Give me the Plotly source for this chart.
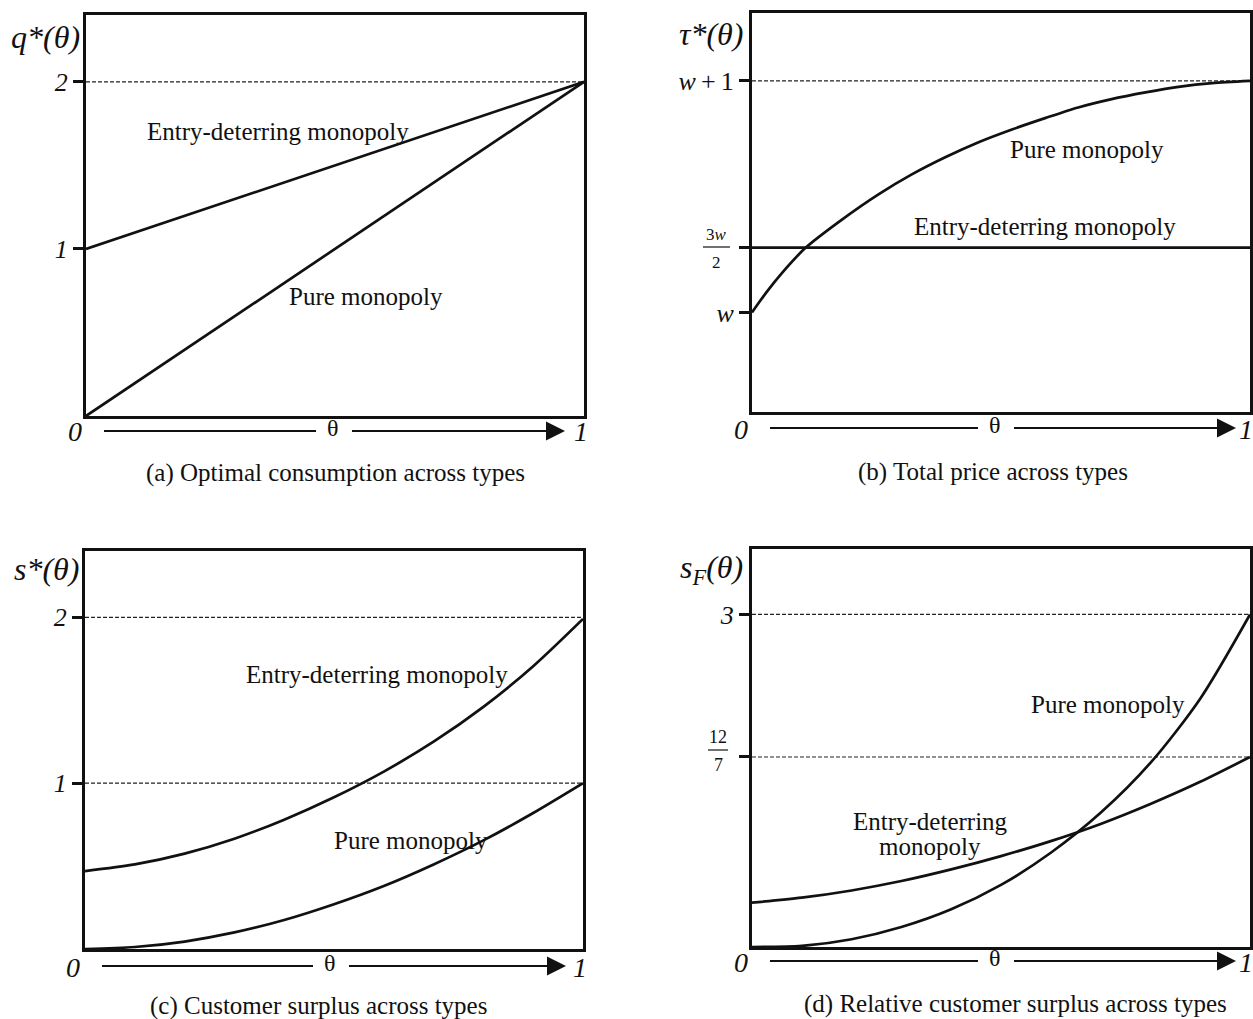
import plotly.graph_objects as go

# ---------------- data ----------------
# (a) optimal consumption
a_theta = [0, 1]
a_entry = [1, 2]
a_pure = [0, 2]
a_ticks = [1, 2]

# (b) total price  (w read as ~0.56 on the picture's scale)
W_VAL = 0.56
b_theta = [0, 0.03, 0.06, 0.108, 0.18, 0.254, 0.32, 0.388, 0.455, 0.522,
           0.59, 0.655, 0.72, 0.79, 0.86, 0.924, 1.0]
b_pure = [0.56, 0.65, 0.73, 0.84, 0.96, 1.07, 1.155, 1.23, 1.295, 1.35,
          1.40, 1.445, 1.48, 1.51, 1.535, 1.55, 1.56]
b_entry_theta = [0, 1]
b_entry = [0.84, 0.84]
b_ticks = [0.56, 0.84, 1.56]

# (c) customer surplus
c_theta = [0, 0.1, 0.2, 0.3, 0.4, 0.5, 0.6, 0.7, 0.8, 0.9, 1.0]
c_entry = [0.47, 0.51, 0.575, 0.665, 0.78, 0.915, 1.07, 1.25, 1.46, 1.705, 1.99]
c_pure = [0.0, 0.012, 0.045, 0.10, 0.175, 0.27, 0.38, 0.51, 0.655, 0.82, 1.0]
c_ticks = [1, 2]

# (d) relative customer surplus
d_theta = [0, 0.1, 0.2, 0.3, 0.4, 0.5, 0.6, 0.7, 0.8, 0.9, 1.0]
d_pure = [0.0, 0.01, 0.07, 0.18, 0.34, 0.56, 0.85, 1.21, 1.66, 2.24, 3.0]
d_entry = [0.40, 0.445, 0.51, 0.595, 0.70, 0.82, 0.955, 1.11, 1.29, 1.49, 1.714]
d_ticks = [12 / 7, 3]

# ---------------- geometry helpers ----------------
FW, FH = 1253, 1019


def px(x):
    return x / FW


def py(y):
    return 1 - y / FH


FONT = "Liberation Serif"
BLACK = "#111111"

fig = go.Figure()

panels = {
    "a": dict(xa="x", ya="y", box=(86, 584, 15, 416), yr=[0, 2.40]),
    "b": dict(xa="x2", ya="y2", box=(752, 1250, 13, 412), yr=[0.13, 1.853]),
    "c": dict(xa="x3", ya="y3", box=(85, 583, 551, 949), yr=[0, 2.40]),
    "d": dict(xa="x4", ya="y4", box=(752, 1250, 549, 947), yr=[0, 3.59]),
}


def dashed(p, yv):
    fig.add_trace(go.Scatter(x=[0, 1], y=[yv, yv], mode="lines",
                             line=dict(color="#222222", width=1.1, dash="4px,2px"),
                             xaxis=panels[p]["xa"], yaxis=panels[p]["ya"],
                             showlegend=False, hoverinfo="skip"))


def curve(p, xs, ys):
    fig.add_trace(go.Scatter(x=xs, y=ys, mode="lines",
                             line=dict(color=BLACK, width=2.7, shape="spline", smoothing=0.8),
                             xaxis=panels[p]["xa"], yaxis=panels[p]["ya"],
                             showlegend=False, hoverinfo="skip"))


# (a)
dashed("a", 2)
curve("a", a_theta, a_entry)
curve("a", a_theta, a_pure)
# (b)
dashed("b", W_VAL + 1)
curve("b", b_entry_theta, b_entry)
curve("b", b_theta, b_pure)
# (c)
dashed("c", 2)
dashed("c", 1)
curve("c", c_theta, c_entry)
curve("c", c_theta, c_pure)
# (d)
dashed("d", 3)
dashed("d", 12 / 7)
curve("d", d_theta, d_entry)
curve("d", d_theta, d_pure)

layout = dict(width=FW, height=FH, margin=dict(l=0, r=0, t=0, b=0),
              paper_bgcolor="white", plot_bgcolor="white", showlegend=False,
              font=dict(family=FONT, color=BLACK, size=22))

tickinfo = {
    "a": (a_ticks, ["<i>1</i>", "<i>2</i>"]),
    "b": (b_ticks, ["<i>w</i>", "", "<i>w</i>\u2009+\u20091"]),
    "c": (c_ticks, ["<i>1</i>", "<i>2</i>"]),
    "d": (d_ticks, ["", "<i>3</i>"]),
}

for i, (k, p) in enumerate(panels.items()):
    x0, x1, y0, y1 = p["box"]
    sfx = "" if i == 0 else str(i + 1)
    layout["xaxis" + sfx] = dict(domain=[px(x0), px(x1)], range=[0, 1],
                                 showgrid=False, zeroline=False, showticklabels=False,
                                 ticks="", showline=True, mirror=True, linewidth=3,
                                 linecolor=BLACK, anchor="y" + sfx, fixedrange=True)
    tv, tt = tickinfo[k]
    layout["yaxis" + sfx] = dict(domain=[py(y1), py(y0)], range=p["yr"],
                                 showgrid=False, zeroline=False, tickvals=tv, ticktext=tt,
                                 ticks="outside", ticklen=10, tickwidth=3, tickcolor=BLACK,
                                 tickfont=dict(family=FONT, size=26, color=BLACK),
                                 showline=True, mirror=True, linewidth=3, linecolor=BLACK,
                                 anchor="x" + sfx, fixedrange=True)

fig.update_layout(**layout)

ann = []
shapes = []


def text(x, y, t, size=25, **kw):
    ann.append(dict(x=px(x), y=py(y), xref="paper", yref="paper", text=t,
                    showarrow=False, xanchor="center", yanchor="middle",
                    font=dict(family=FONT, size=size, color=BLACK), **kw))


def hline(x0, x1, y, w=1.2):
    shapes.append(dict(type="line", xref="paper", yref="paper", x0=px(x0), x1=px(x1),
                       y0=py(y), y1=py(y), line=dict(color=BLACK, width=w)))


# axis titles
text(45, 37, "<i>q*(θ)</i>", 32)
text(711, 34, "<i>τ*(θ)</i>", 32)
text(46, 569, "<i>s*(θ)</i>", 32)
text(711, 569, "<i>s<sub>F</sub>(θ)</i>", 32)

# fraction tick labels
text(716, 234, "3<i>w</i>", 17)
text(716, 263, "2", 17)
hline(703, 730, 247)
text(718, 737, "12", 18)
text(718, 765, "7", 18)
hline(708, 728, 750)

# curve labels
text(278, 131, "Entry-deterring monopoly")
text(366, 296, "Pure monopoly")
text(1087, 149, "Pure monopoly")
text(1045, 227, "Entry-deterring monopoly")
text(377, 674, "Entry-deterring monopoly")
text(411, 840, "Pure monopoly")
text(1108, 704, "Pure monopoly")
text(930, 821, "Entry-deterring")
text(930, 846, "monopoly")

# theta axes with arrows
for (xl, xt, xe, xr, yy, xc, cap, yc) in [
    (75, 333, 565, 581, 431, 335, "(a) Optimal consumption across types", 473),
    (741, 995, 1236, 1246, 428, 993, "(b) Total price across types", 472),
    (73, 330, 566, 580, 966, 318, "(c) Customer surplus across types", 1006),
    (741, 995, 1236, 1246, 961, 1015, "(d) Relative customer surplus across types", 1004),
]:
    text(xl, yy + 1, "<i>0</i>", 28)
    text(xr, yy + 1, "<i>1</i>", 28)
    start = xl + 29
    hline(start, xt - 17, yy, 2)
    ann.append(dict(x=px(xe), y=py(yy), xref="paper", yref="paper", text=" ",
                    showarrow=True, ax=-(xe - (xt + 17)), ay=0, axref="pixel", ayref="pixel",
                    arrowhead=2, arrowsize=1.9, arrowwidth=2, arrowcolor=BLACK,
                    standoff=0, startstandoff=0, font=dict(size=4)))
    text(xt, yy - 3, "θ", 24)
    text(xc, yc, cap, 25)

fig.update_layout(annotations=ann, shapes=shapes)
fig.write_html("out.html", config={"displayModeBar": False},
               post_script="document.body.style.margin='0';")
